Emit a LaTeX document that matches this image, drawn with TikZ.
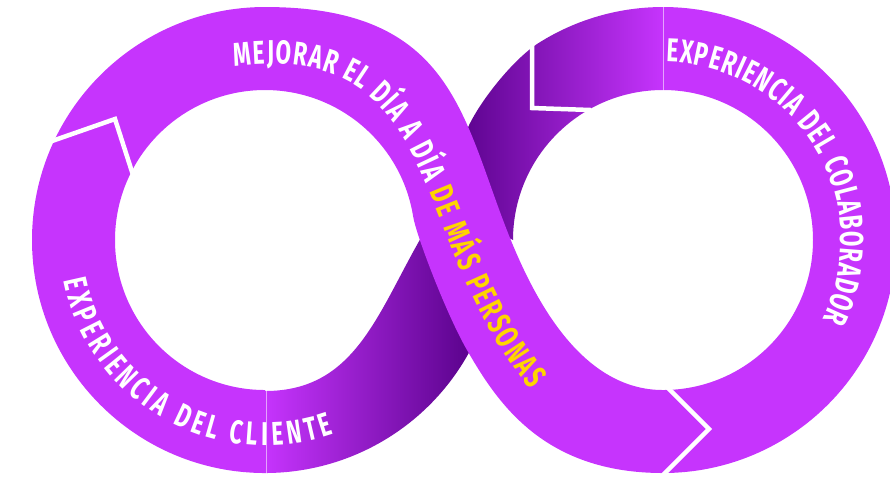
\documentclass[tikz,border=0pt]{standalone}
\usepackage{fontspec}
\newfontfamily\lab[FakeStretch=0.68]{Fira Sans}
\usetikzlibrary{decorations.text}
\definecolor{pbright}{HTML}{C634FD}
\definecolor{pdark}{HTML}{5E0490}
\definecolor{pyellow}{HTML}{FFD400}
\newcommand\fa{\lab\bfseries\fontsize{8.25}{8.25}\selectfont\kern0.55pt}
\newcommand\fb{\lab\bfseries\fontsize{8.25}{8.25}\selectfont\kern0.83pt}
\newcommand\fc{\lab\bfseries\fontsize{8.25}{8.25}\selectfont\kern0.47pt}
\begin{document}
\begin{tikzpicture}[x=0.25pt,y=-0.25pt,
  chev/.style={white, line width=1.125pt, line join=miter},
  seam/.style={white, opacity=0.55, line width=0.23pt}]
\useasboundingbox (0,0) rectangle (890,476);
% back band (gradient)
\begin{scope}
\clip (265,390) -- (265,473)
  arc[start angle=90, end angle=-2, radius=233]
  -- (513,240)
  arc[start angle=180, end angle=270, radius=150]
  -- (663,7)
  arc[start angle=270, end angle=238, radius=233]
  .. controls (514,58) and (477,104) .. (466,132)
  -- (440,200) -- (422,236)
  .. controls (377,314) and (355,391) .. (265,391) -- cycle;
\shade[left color=pbright, right color=pbright, middle color=pdark] (265,0) rectangle (663,476);
\end{scope}
% bright band (left half, front band, right half)
\fill[pbright] (265,7)
  arc[start angle=270, end angle=90, radius=233]
  -- (265,390)
  arc[start angle=90, end angle=350.8, radius=150]
  .. controls (416.2,235.7) and (447,315.4) .. (467,350)
  .. controls (497,402) and (543,473) .. (663,473)
  arc[start angle=90, end angle=-90, radius=233]
  -- (663,90)
  arc[start angle=-90, end angle=90, radius=150]
  .. controls (583,390) and (536.2,302.9) .. (510,238)
  .. controls (462,119) and (455,7) .. (265,7)
  -- cycle;
% chevrons and seams
\draw[chev] (52,141) -- (115,119) -- (134,178);
\draw[chev] (532,40) -- (532,108) -- (591,110);
\draw[chev] (667,387) -- (709,429) -- (661,477);
\draw[seam] (266,389) -- (266,474);
\draw[seam] (663,6) -- (663,91);
% texts
\path[decorate, decoration={text along path, text align=left, raise=-2.875pt,
  text={|\fa\color{white}|MEJORAR EL DÍA A DÍA |\fa\color{pyellow}|DE MÁS PERSONAS}}]
  (231,55) .. controls (459.4,27) and (414.4,233.8) .. (543,387) -- (600,455);
\path[decorate, decoration={text along path, text align=center, raise=-2.875pt,
  text={|\fb\color{white}|EXPERIENCIA DEL CLIENTE}}]
  ([shift={(194.9:194)}]265,240) arc[start angle=194.9, end angle=44.9, radius=194];
\path[decorate, decoration={text along path, text align=center, raise=-2.875pt,
  text={|\fc\color{white}|EXPERIENCIA DEL COLABORADOR}}]
  ([shift={(-106.55:189.5)}]663,240) arc[start angle=-106.55, end angle=43.45, radius=189.5];
\end{tikzpicture}
\end{document}
